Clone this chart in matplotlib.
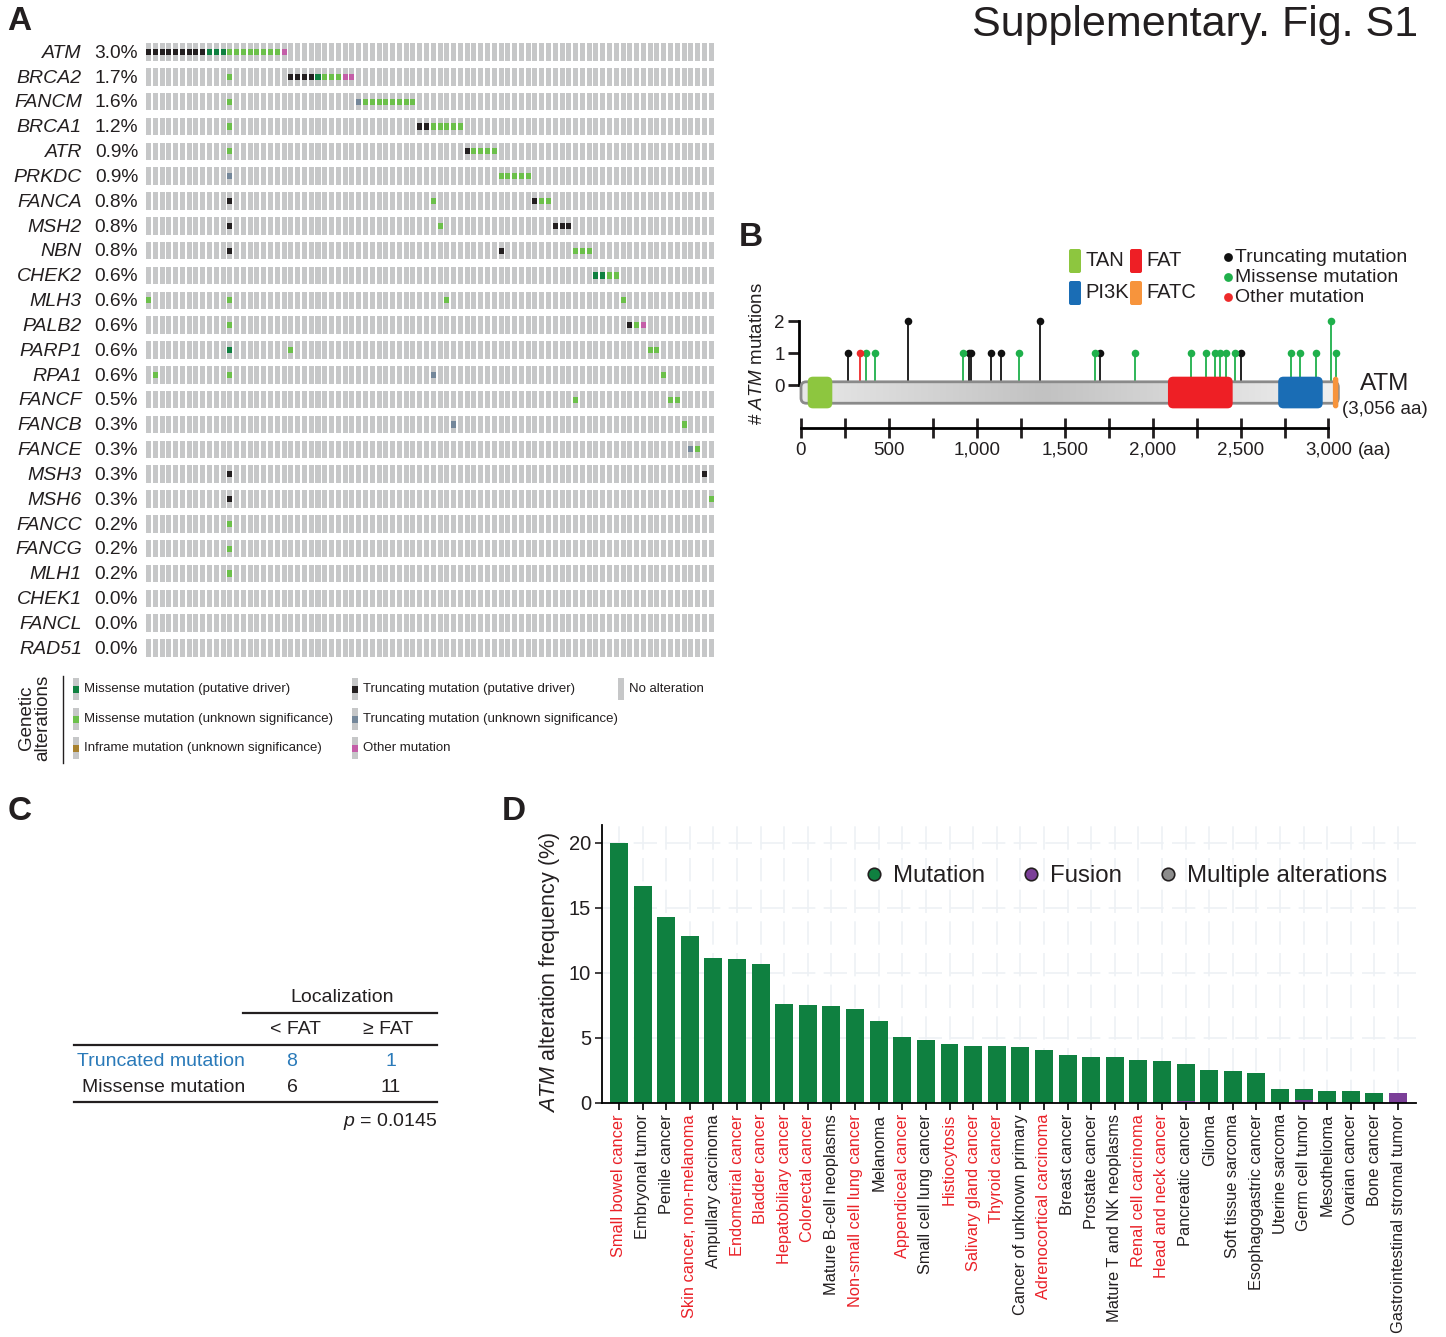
import numpy as np
import matplotlib.pyplot as plt
from matplotlib.patches import FancyBboxPatch, Rectangle
from matplotlib.lines import Line2D
from matplotlib.colors import LinearSegmentedColormap
from matplotlib.transforms import blended_transform_factory

plt.rcParams['font.family'] = ['Liberation Sans', 'DejaVu Sans']
plt.rcParams['mathtext.fontset'] = 'custom'
plt.rcParams['mathtext.rm'] = 'Liberation Sans'
plt.rcParams['mathtext.it'] = 'Liberation Sans:italic'

# ---------------- data ----------------
# A: oncoprint (only altered samples are shown, 84 columns)
n_samples = 84
genes = ['ATM', 'BRCA2', 'FANCM', 'BRCA1', 'ATR', 'PRKDC', 'FANCA', 'MSH2', 'NBN',
         'CHEK2', 'MLH3', 'PALB2', 'PARP1', 'RPA1', 'FANCF', 'FANCB', 'FANCE', 'MSH3',
         'MSH6', 'FANCC', 'FANCG', 'MLH1', 'CHEK1', 'FANCL', 'RAD51']
gene_pct = ['3.0%', '1.7%', '1.6%', '1.2%', '0.9%', '0.9%', '0.8%', '0.8%', '0.8%',
            '0.6%', '0.6%', '0.6%', '0.6%', '0.6%', '0.5%', '0.3%', '0.3%', '0.3%',
            '0.3%', '0.2%', '0.2%', '0.2%', '0.0%', '0.0%', '0.0%']

missense_driver = {'ATM': [9, 10, 11], 'BRCA2': [25], 'CHEK2': [66, 67], 'PARP1': [12]}
missense_vus = {'ATM': [12, 13, 14, 15, 16, 17, 18, 19], 'BRCA2': [12, 26, 27, 28],
                'FANCM': [12, 32, 33, 34, 35, 36, 37, 38, 39],
                'BRCA1': [12, 42, 43, 44, 45, 46], 'ATR': [12, 48, 49, 50, 51],
                'PRKDC': [52, 53, 54, 55, 56], 'FANCA': [42, 58, 59], 'MSH2': [43],
                'NBN': [63, 64, 65], 'CHEK2': [68, 69], 'MLH3': [0, 12, 44, 70],
                'PALB2': [12, 72], 'PARP1': [21, 74, 75], 'RPA1': [1, 12, 76],
                'FANCF': [63, 77, 78], 'FANCB': [79], 'FANCE': [81], 'MSH6': [83],
                'FANCC': [12], 'FANCG': [12], 'MLH1': [12]}
trunc_driver = {'ATM': [0, 1, 2, 3, 4, 5, 6, 7, 8], 'BRCA2': [21, 22, 23, 24],
                'BRCA1': [40, 41], 'ATR': [47], 'FANCA': [12, 57],
                'MSH2': [12, 60, 61, 62], 'NBN': [12, 52], 'PALB2': [71],
                'MSH3': [12, 82], 'MSH6': [12]}
trunc_vus = {'FANCM': [31], 'PRKDC': [12], 'RPA1': [42], 'FANCB': [45], 'FANCE': [80]}
other_mut = {'ATM': [20], 'BRCA2': [29, 30], 'PALB2': [73]}

# B: ATM lollipop
protein_len = 3056
domain_names = ['TAN', 'FAT', 'PI3K', 'FATC']
domain_start = [38, 2087, 2714, 3025]
domain_end = [178, 2455, 2967, 3056]
trunc_pos = [266, 609, 956, 969, 1078, 1139, 1362, 1702, 2503]
trunc_cnt = [1, 2, 1, 1, 1, 1, 2, 1, 1]
missense_pos = [370, 423, 921, 1238, 1674, 1902, 2217, 2303, 2353, 2384, 2417, 2470,
                2785, 2840, 2929, 3015, 3043]
missense_cnt = [1, 1, 1, 1, 1, 1, 1, 1, 1, 1, 1, 1, 1, 1, 1, 2, 1]
other_pos = [337]
other_cnt = [1]

# C: table
table_rows = ['Truncated mutation', 'Missense mutation']
before_fat = [8, 6]
after_fat = [1, 11]
p_value = '0.0145'

# D: alteration frequency by cancer type
cancers = ['Small bowel cancer', 'Embryonal tumor', 'Penile cancer',
           'Skin cancer, non-melanoma', 'Ampullary carcinoma', 'Endometrial cancer',
           'Bladder cancer', 'Hepatobiliary cancer', 'Colorectal cancer',
           'Mature B-cell neoplasms', 'Non-small cell lung cancer', 'Melanoma',
           'Appendiceal cancer', 'Small cell lung cancer', 'Histiocytosis',
           'Salivary gland cancer', 'Thyroid cancer', 'Cancer of unknown primary',
           'Adrenocortical carcinoma', 'Breast cancer', 'Prostate cancer',
           'Mature T and NK neoplasms', 'Renal cell carcinoma', 'Head and neck cancer',
           'Pancreatic cancer', 'Glioma', 'Soft tissue sarcoma', 'Esophagogastric cancer',
           'Uterine sarcoma', 'Germ cell tumor', 'Mesothelioma', 'Ovarian cancer',
           'Bone cancer', 'Gastrointestinal stromal tumor']
mutation_freq = [20.0, 16.68, 14.29, 12.82, 11.12, 11.04, 10.66, 7.64, 7.47, 7.49, 7.26,
                 6.33, 5.10, 4.86, 4.56, 4.40, 4.38, 4.34, 4.06, 3.68, 3.53, 3.53, 3.32,
                 3.24, 2.88, 2.55, 2.47, 2.32, 1.08, 0.82, 0.93, 0.93, 0.77, 0.0]
fusion_freq = [0, 0, 0, 0, 0, 0, 0, 0, 0.10, 0, 0, 0, 0, 0, 0, 0, 0, 0, 0, 0, 0, 0, 0,
               0, 0.13, 0, 0, 0, 0, 0.26, 0, 0, 0, 0.77]
red_labels = ['Small bowel cancer', 'Skin cancer, non-melanoma', 'Endometrial cancer',
              'Bladder cancer', 'Hepatobiliary cancer', 'Colorectal cancer',
              'Non-small cell lung cancer', 'Appendiceal cancer', 'Histiocytosis',
              'Salivary gland cancer', 'Thyroid cancer', 'Adrenocortical carcinoma',
              'Renal cell carcinoma', 'Head and neck cancer']

# ---------------- colours ----------------
INK = '#231f20'
C_NONE = '#c6c7c8'
C_MD = '#0f8040'
C_MV = '#6cc04a'
C_IF = '#a8812e'
C_TD = '#231f20'
C_TV = '#74879a'
C_OT = '#c45ea8'
RED = '#ea2229'
BLUE = '#2a7ab9'

W, H = 1446, 1337
fig = plt.figure(figsize=(W / 100, H / 100), dpi=100)


def rect(x0, y0, x1, y1):
    return [x0 / W, 1 - y1 / H, (x1 - x0) / W, (y1 - y0) / H]


bg = fig.add_axes([0, 0, 1, 1])
bg.set_xlim(0, W)
bg.set_ylim(H, 0)
bg.axis('off')

for letter, x, y in [('A', 7, 21), ('B', 739, 238), ('C', 8, 811), ('D', 502, 812)]:
    bg.text(x, y, letter, fontsize=24, fontweight='bold', va='center', color=INK)
bg.text(1418, 25, 'Supplementary. Fig. S1', ha='right', va='center', fontsize=31,
        color=INK)

# ---------------- A ----------------
axA = fig.add_axes(rect(146, 39.6, 715.5, 660.4))
axA.set_xlim(0, n_samples)
axA.set_ylim(len(genes) - 0.5, -0.5)
axA.axis('off')
cols = np.arange(n_samples)
layers = [(missense_driver, C_MD), (missense_vus, C_MV), (trunc_driver, C_TD),
          (trunc_vus, C_TV), (other_mut, C_OT)]
tr = blended_transform_factory(bg.transData, axA.transData)
for r, g in enumerate(genes):
    axA.bar(cols, 0.70, bottom=r - 0.35, width=0.74, align='edge', color=C_NONE, lw=0)
    for d, c in layers:
        if g in d:
            axA.bar(d[g], 0.25, bottom=r - 0.125, width=0.74, align='edge', color=c, lw=0)
    axA.text(82, r + 0.05, g, transform=tr, ha='right', va='center', fontsize=14,
             style='italic', color=INK)
    axA.text(138, r + 0.05, gene_pct[r], transform=tr, ha='right', va='center',
             fontsize=13.8, color=INK)

# A legend
legA = [('Missense mutation (putative driver)', C_MD, 73, 689),
        ('Missense mutation (unknown significance)', C_MV, 73, 719),
        ('Inframe mutation (unknown significance)', C_IF, 73, 748),
        ('Truncating mutation (putative driver)', C_TD, 352, 689),
        ('Truncating mutation (unknown significance)', C_TV, 352, 719),
        ('Other mutation', C_OT, 352, 748),
        ('No alteration', None, 618, 689)]
for label, c, x, y in legA:
    bg.add_patch(Rectangle((x, y - 11), 6, 22, color=C_NONE, lw=0))
    if c:
        bg.add_patch(Rectangle((x, y - 3.5), 6, 7, color=c, lw=0))
    bg.text(x + 11, y, label, va='center', fontsize=9.5, color=INK)
bg.plot([63, 63], [676, 763], color=INK, lw=1)
bg.text(35, 718, 'Genetic\nalterations', rotation=90, ha='center', va='center',
        fontsize=13.5, linespacing=0.95, color=INK)

# ---------------- B ----------------
px_per_aa = 0.17583
px_per_cnt = 32.0
bx0, bx1, by0, by1 = 760, 1350, 305, 445
axB = fig.add_axes(rect(bx0, by0, bx1, by1))
axB.patch.set_visible(False)
xlimB = ((bx0 - 801) / px_per_aa, (bx1 - 801) / px_per_aa)
ylimB = ((385 - by1) / px_per_cnt, (385 - by0) / px_per_cnt)
asp = px_per_aa / px_per_cnt

for pos, cnt, c in [(trunc_pos, trunc_cnt, '#111111'), (missense_pos, missense_cnt, '#1fb04b'),
                    (other_pos, other_cnt, '#ee2a2a')]:
    axB.vlines(pos, 0.1, cnt, color=c, lw=1.3, zorder=1)
    axB.scatter(pos, cnt, s=30, color=c, zorder=4, lw=0)

body = FancyBboxPatch((0, -0.57), protein_len, 0.67,
                      boxstyle='round,pad=0,rounding_size=30', mutation_aspect=asp,
                      facecolor='none', edgecolor='#8a8a8a', lw=2, zorder=3)
axB.add_patch(body)
xx = np.linspace(0, 1, 300)
grad = np.clip(1 - np.abs(xx - 0.45) / 0.55, 0, 1)[None, :]
cmap = LinearSegmentedColormap.from_list('g', ['#f0f0f0', '#c2c2c2'])
im = axB.imshow(grad, extent=[0, protein_len, -0.57, 0.10], aspect='auto', cmap=cmap,
                zorder=2, interpolation='bilinear')
im.set_clip_path(body)
dom_colors = ['#8dc63f', '#ee1f25', '#1a6db5', '#f7943c']
for s, e, c in zip(domain_start, domain_end, dom_colors):
    rs = min(30, (e - s) / 2)
    axB.add_patch(FancyBboxPatch((s, -0.73), e - s, 0.99,
                                 boxstyle=f'round,pad=0,rounding_size={rs}',
                                 mutation_aspect=asp, facecolor=c, edgecolor='none',
                                 zorder=3.5))
axB.set_xlim(*xlimB)
axB.set_ylim(*ylimB)
for s in ['top', 'right']:
    axB.spines[s].set_visible(False)
axB.spines['left'].set_position(('data', -14))
axB.spines['left'].set_bounds(0, 2)
axB.spines['left'].set_linewidth(2)
axB.spines['bottom'].set_position(('data', (385 - 428) / px_per_cnt))
axB.spines['bottom'].set_bounds(0, 3000)
axB.spines['bottom'].set_linewidth(2)
axB.set_yticks([0, 1, 2])
axB.tick_params(axis='y', length=8, width=2, labelsize=13.5, pad=2, colors=INK)
axB.set_xticks(np.arange(0, 3001, 500))
axB.set_xticks(np.arange(250, 3000, 500), minor=True)
axB.set_xticklabels(['0', '500', '1,000', '1,500', '2,000', '2,500', '3,000'])
axB.tick_params(axis='x', which='both', direction='inout', length=14, width=2,
                labelsize=13.5, pad=3, colors=INK)
axB.annotate('(aa)', xy=(3000, (385 - 428) / px_per_cnt), xytext=(21, -16),
             textcoords='offset points', fontsize=13.5, va='center', ha='left',
             color=INK, annotation_clip=False)
bg.text(757, 354, r'# $\it{ATM}$ mutations', rotation=90, ha='center', va='center',
        fontsize=13.5, color=INK)
bg.text(1385, 384, 'ATM', ha='center', va='center', fontsize=17.5, color=INK)
bg.text(1385, 409, '(3,056 aa)', ha='center', va='center', fontsize=13.5, color=INK)

# B legend
for name, c, x, y in zip(domain_names, dom_colors, [1069, 1130, 1069, 1130],
                         [261, 261, 293, 293]):
    bg.add_patch(FancyBboxPatch((x, y - 12), 12, 24, boxstyle='round,pad=0,rounding_size=2',
                                facecolor=c, edgecolor='none'))
    bg.text(x + 16, y, name, va='center', fontsize=14.5, color=INK)
for lab, c, y in [('Truncating mutation', '#111111', 257),
                  ('Missense mutation', '#1fb04b', 277),
                  ('Other mutation', '#ee2a2a', 297)]:
    bg.scatter([1228], [y], s=40, color=c, lw=0)
    bg.text(1235, y, lab, va='center', fontsize=14, color=INK)

# ---------------- C ----------------
FS_C = 14
bg.text(342, 998, 'Localization', ha='center', va='center', fontsize=FS_C, color=INK)
bg.plot([243, 437], [1013, 1013], color=INK, lw=1.6)
bg.text(295, 1029, '< FAT', ha='center', va='center', fontsize=FS_C, color=INK)
bg.text(388, 1029, '\u2265 FAT', ha='center', va='center', fontsize=FS_C, color=INK)
bg.plot([74, 437], [1045, 1045], color=INK, lw=1.6)
for i, (lab, a, b) in enumerate(zip(table_rows, before_fat, after_fat)):
    c = BLUE if i == 0 else INK
    y = 1061 + 26 * i
    bg.text(245, y, lab, ha='right', va='center', fontsize=FS_C, color=c)
    bg.text(292, y, str(a), ha='center', va='center', fontsize=FS_C, color=c)
    bg.text(391, y, str(b), ha='center', va='center', fontsize=FS_C, color=c)
bg.plot([74, 437], [1102, 1102], color=INK, lw=1.6)
bg.text(437, 1121, r'$\it{p}$ = ' + p_value, ha='right', va='center', fontsize=FS_C,
        color=INK)

# ---------------- D ----------------
axD = fig.add_axes(rect(602, 825, 1416, 1103))
axD.patch.set_visible(False)
xD = np.arange(len(cancers))
for yv in [5, 10, 15, 20]:
    axD.axhline(yv, color='#edf1f5', lw=1.2, ls=(0, (14, 5)), zorder=0)
for xv in xD:
    axD.axvline(xv, color='#edf1f5', lw=1.2, ls=(0, (14, 5)), zorder=0)
axD.bar(xD, fusion_freq, width=0.76, color='#7b3f98', zorder=2)
axD.bar(xD, mutation_freq, bottom=fusion_freq, width=0.76, color='#0f8040', zorder=2)
axD.set_xlim(-0.72, len(cancers) - 0.24)
axD.set_ylim(0, 21.38)
axD.spines['top'].set_visible(False)
axD.spines['right'].set_visible(False)
axD.spines['left'].set_linewidth(1.3)
axD.spines['bottom'].set_linewidth(1.3)
axD.set_yticks([0, 5, 10, 15, 20])
axD.tick_params(axis='y', length=5, width=1.2, labelsize=14.5, pad=3, colors=INK)
axD.set_xticks(xD)
axD.set_xticklabels(cancers, rotation=90, fontsize=11.8)
axD.tick_params(axis='x', length=5, width=1.2, pad=3)
for t, name in zip(axD.get_xticklabels(), cancers):
    t.set_color(RED if name in red_labels else INK)
bg.text(550, 972, r'$\it{ATM}$ alteration frequency (%)', rotation=90, ha='center',
        va='center', fontsize=15.5, color=INK)
handles = [Line2D([], [], marker='o', ls='', markerfacecolor=c, markeredgecolor=INK,
                  markeredgewidth=1.2, markersize=9)
           for c in ['#0f8040', '#7b3f98', '#8c8c8c']]
axD.legend(handles, ['Mutation', 'Fusion', 'Multiple alterations'], ncol=3,
           loc='center right', bbox_to_anchor=(1387, 876), bbox_transform=bg.transData,
           frameon=False, fontsize=17.3, handlelength=0.8, handletextpad=0.4,
           columnspacing=1.5, borderaxespad=0, borderpad=0, labelcolor=INK)

fig.savefig('out.png', dpi=100)
